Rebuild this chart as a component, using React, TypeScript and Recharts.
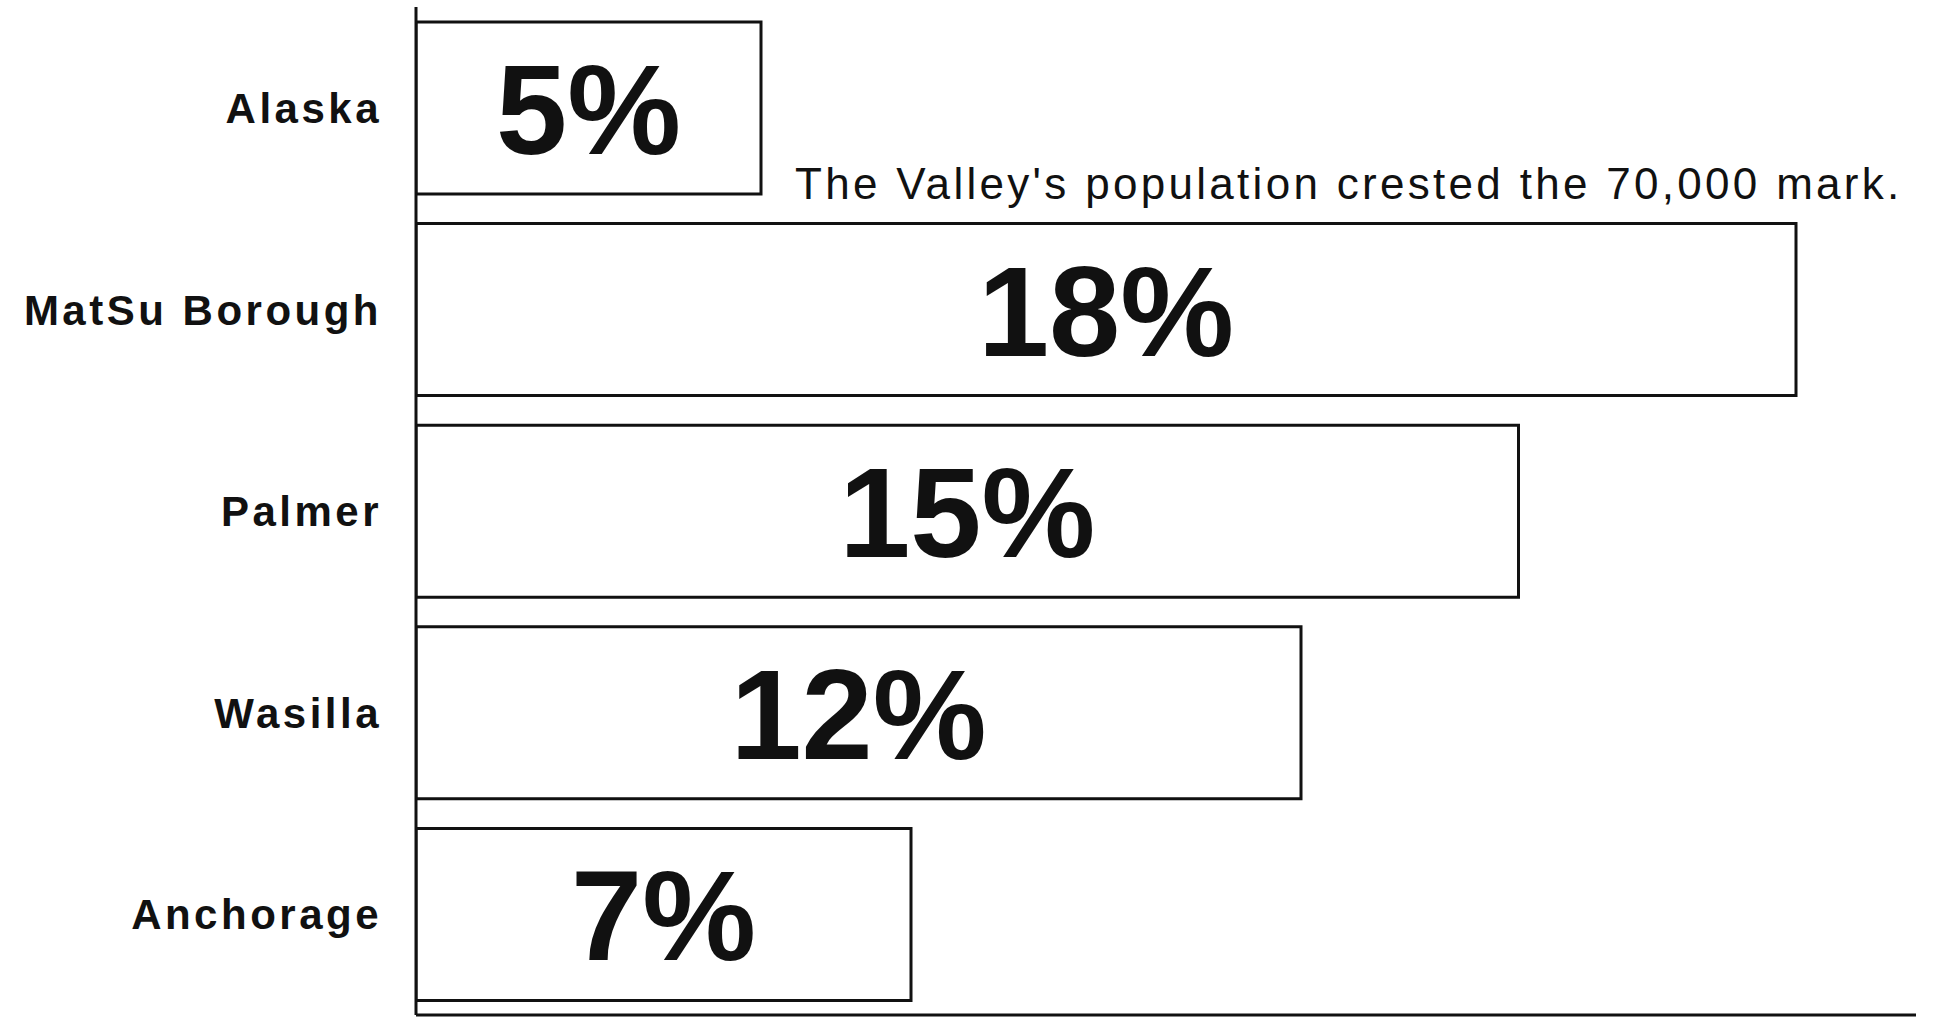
import React from "react";
import { BarChart, Bar, XAxis, YAxis, LabelList, Customized } from "recharts";

// ---- data ----
const categories: string[] = ["Alaska", "MatSu Borough", "Palmer", "Wasilla", "Anchorage"];
const growthPct: number[] = [4.6, 18.4, 14.7, 11.8, 6.6];
const xDomain: [number, number] = [0, 20];
const annotationText = "The Valley's population crested the 70,000 mark.";

const data = categories.map((name, i) => ({ name, value: growthPct[i] }));

const FONT = "'Liberation Sans', Arial, Helvetica, sans-serif";
const INK = "#111";

const CategoryTick = (props: any) => {
  const { x, y, payload } = props;
  return (
    <text
      x={x}
      y={y}
      dy="0.36em"
      textAnchor="end"
      fontFamily={FONT}
      fontSize={42}
      fontWeight="bold"
      letterSpacing={3.5}
      fill={INK}
    >
      {payload.value}
    </text>
  );
};

const ValueLabel = (props: any) => {
  const { x, y, width, height, value } = props;
  return (
    <text
      x={Number(x) + Number(width) / 2}
      y={Number(y) + Number(height) / 2}
      dy="0.36em"
      textAnchor="middle"
      fontFamily={FONT}
      fontSize={128}
      fontWeight="bold"
      fill={INK}
    >
      {`${Math.round(Number(value))}%`}
    </text>
  );
};

const Annotation = () => (
  <text
    x={795}
    y={199}
    fontFamily={FONT}
    fontSize={44}
    letterSpacing={3.3}
    fill={INK}
  >
    {annotationText}
  </text>
);

export default function App() {
  return (
    <div style={{ position: "absolute", left: 0, top: 0, width: 1939, height: 1017, background: "#fff" }}>
      <BarChart
        width={1939}
        height={1017}
        data={data}
        layout="vertical"
        margin={{ top: 7, right: 23, bottom: 0, left: 0 }}
        barCategoryGap={15}
      >
        <XAxis
          type="number"
          domain={xDomain}
          allowDataOverflow
          tick={false}
          tickLine={false}
          height={2}
          axisLine={{ stroke: INK, strokeWidth: 3 }}
        />
        <YAxis
          type="category"
          dataKey="name"
          width={416}
          tickLine={false}
          tickSize={0}
          tickMargin={34}
          axisLine={{ stroke: INK, strokeWidth: 3 }}
          tick={<CategoryTick />}
          interval={0}
        />
        <Bar
          dataKey="value"
          fill="#fff"
          stroke={INK}
          strokeWidth={3}
          isAnimationActive={false}
        >
          <LabelList dataKey="value" content={<ValueLabel />} />
        </Bar>
        <Customized component={Annotation} />
      </BarChart>
    </div>
  );
}
